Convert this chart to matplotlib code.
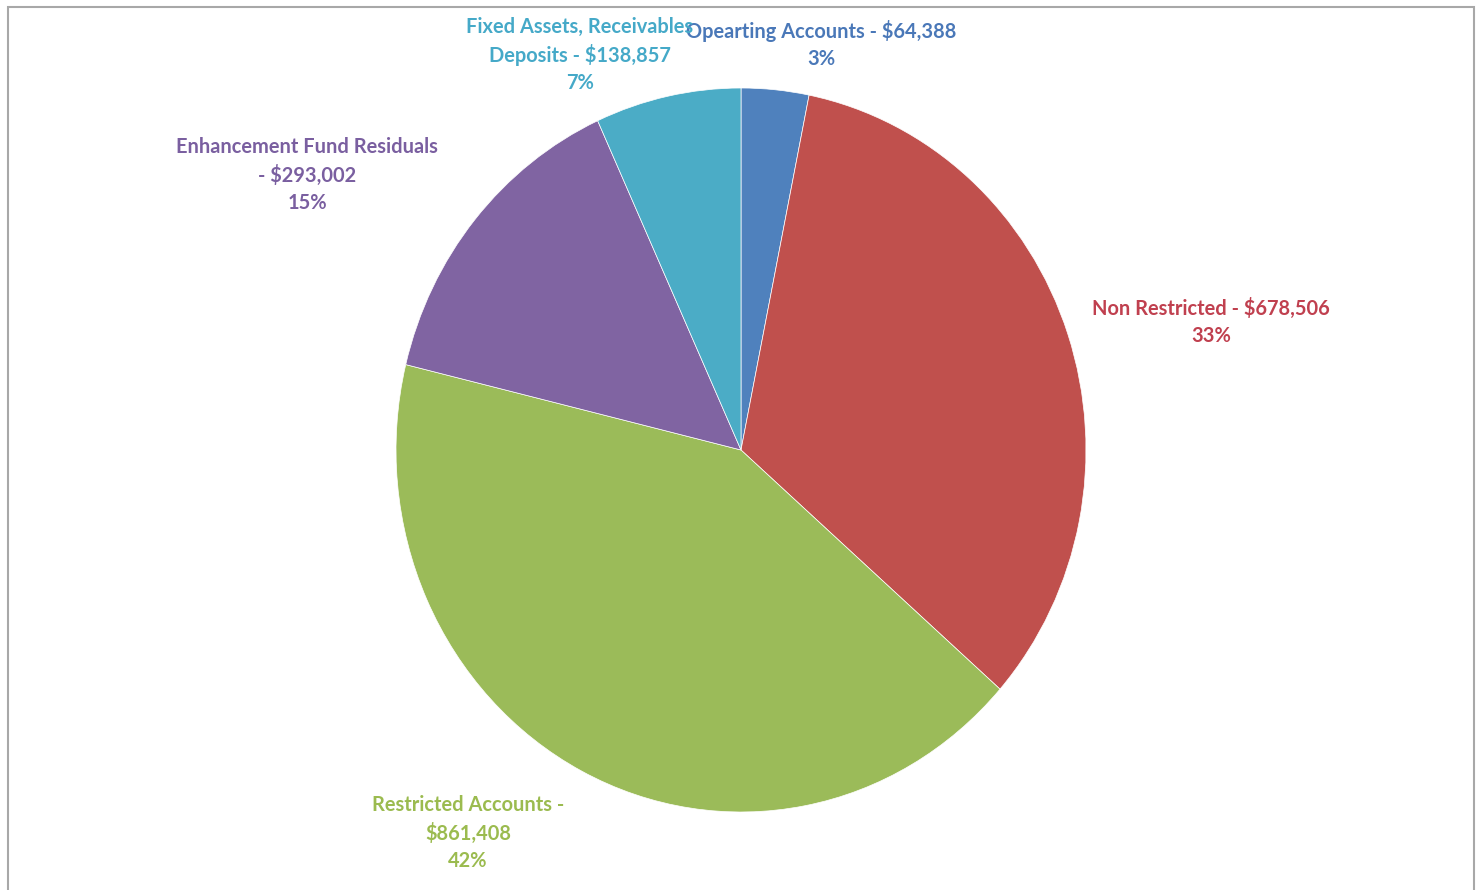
import matplotlib.pyplot as plt
from matplotlib.patches import Rectangle

# fund balances by account group
categories = ['Opearting Accounts', 'Non Restricted', 'Restricted Accounts',
              'Enhancement Fund Residuals', 'Fixed Assets, Receivables Deposits']
amounts = [64388, 678506, 861408, 293002, 138857]
pct_labels = ['3%', '33%', '42%', '15%', '7%']
label_text = [
    'Opearting Accounts - $64,388',
    'Non Restricted - $678,506',
    'Restricted Accounts -\n$861,408',
    'Enhancement Fund Residuals\n- $293,002',
    'Fixed Assets, Receivables\nDeposits - $138,857',
]
colors = ['#4f81bd', '#c0504d', '#9bbb59', '#8064a2', '#4bacc6']
text_colors = ['#4a78b8', '#c0404f', '#9bbb4f', '#7a5fa0', '#45a9c8']

W, H = 1479, 890
fig = plt.figure(figsize=(W / 100, H / 100), dpi=100)
fig.patch.set_facecolor('white')

# chart area border
fig.patches.append(Rectangle((7.5 / W, -0.05), (1474 - 7.5) / W, 1.05 - 6.5 / H,
                             transform=fig.transFigure, fill=False,
                             edgecolor='#a8a8a8', linewidth=1.5))

# pie is slightly taller than wide
ax = fig.add_axes([396 / W, (H - 812) / H, 690 / W, 724 / H])
ax.pie(amounts, colors=colors, startangle=90, counterclock=False, radius=1,
       wedgeprops=dict(edgecolor='white', linewidth=0.5))
ax.set_aspect('auto')
ax.set_xlim(-1, 1)
ax.set_ylim(-1, 1)
ax.axis('off')

# label position: center x and first line center y, in pixels
label_pos = [(821, 31), (1211, 308), (468, 805), (307, 147), (580, 27)]
line_step = 28
for txt, pct, col, (px, py) in zip(label_text, pct_labels, text_colors, label_pos):
    for i, line in enumerate(txt.split('\n') + [pct]):
        fig.text(px / W, 1 - (py + i * line_step) / H, line, ha='center', va='center',
                 color=col, fontsize=14.4, fontweight='bold',
                 family=['Lato', 'DejaVu Sans'])

fig.savefig('out.png', dpi=100, facecolor='white')
